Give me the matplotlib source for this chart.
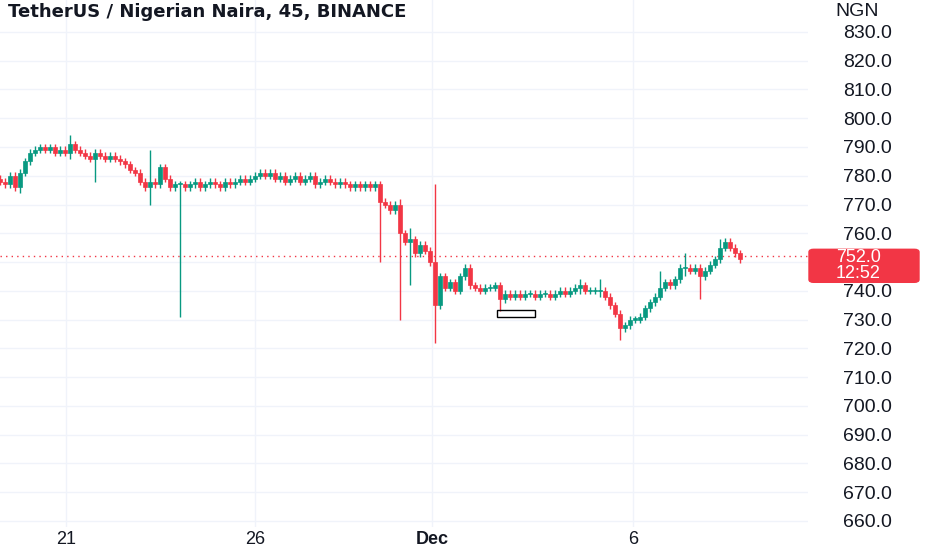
import numpy as np
from matplotlib import pyplot as plt
from matplotlib.patches import Rectangle, FancyBboxPatch

# closes, one candle every ~0.132 day starting Nov 19.25
closes = [778, 777, 780, 776, 781, 785, 788, 789, 790, 789,
          790, 788, 789, 788, 791, 789, 788, 787, 786, 788,
          787, 786, 787, 786, 785, 784, 782, 781, 778, 776,
          778, 777, 783, 779, 776, 777, 777, 776, 777, 778,
          776, 777, 778, 777, 776, 778, 777, 778, 779, 778,
          779, 780, 781, 780, 781, 779, 780, 778, 779, 780,
          778, 779, 780, 777, 778, 779, 778, 777, 778, 777,
          776, 777, 776, 777, 776, 777, 771, 770, 768, 770,
          760, 757, 758, 753, 756, 754, 750, 735, 745, 741,
          743, 740, 745, 748, 742, 741, 740, 741, 741, 742,
          737, 739, 738, 739, 738, 739, 739, 738, 739, 739,
          738, 739, 740, 739, 740, 741, 742, 740, 740, 740,
          740, 738, 735, 732, 727, 728, 730, 730, 731, 734,
          736, 738, 741, 743, 742, 744, 748, 748, 747, 748,
          745, 747, 749, 751, 755, 757, 755, 753, 751]
first_open = 779
# notable wicks: candle index, high, low
spike_idx = [4, 14, 19, 30, 36, 76, 80, 82, 87, 100, 116, 120, 124, 132, 137, 140, 144]
spike_high = [782, 794, 789, 789, 778, 777, 772, 762, 777, 742, 744, 744, 732, 747, 753, 748, 758]
spike_low = [774, 786, 778, 770, 731, 750, 730, 742, 722, 733, 739, 738, 723, 738, 745, 737, 750]

tick_days = [21, 26, 30.68, 36]
tick_labels = ["21", "26", "Dec", "6"]
price_ticks = np.arange(660, 831, 10)

start_day = 19.25
step = 5 / 37.8
last_price = 752.0
countdown = "12:52"

GREEN = "#089981"
RED = "#f23645"
plt.rcParams['font.family'] = ['Liberation Sans', 'DejaVu Sans']

opens = [first_open] + closes[:-1]
highs = [max(o, c) + 1.2 for o, c in zip(opens, closes)]
lows = [min(o, c) - 1.2 for o, c in zip(opens, closes)]
for i, h, l in zip(spike_idx, spike_high, spike_low):
    highs[i] = max(highs[i], h)
    lows[i] = min(lows[i], l)
x = start_day + np.arange(len(closes)) * step

fig = plt.figure(figsize=[9.32, 5.5], dpi=100)
fig.patch.set_facecolor("white")
ax = fig.add_axes([0, 23 / 550, 808 / 932, 527 / 550])
ax.set_xlim(start_day, start_day + 808 / 37.8)
ax.set_ylim(657.9, 841.1)

for xi, o, c, h, l in zip(x, opens, closes, highs, lows):
    col = GREEN if c >= o else RED
    ax.plot([xi, xi], [l, h], color=col, lw=1, solid_capstyle="butt", zorder=3)
    ax.add_patch(Rectangle((xi - 0.045, min(o, c)), 0.09, max(abs(c - o), 0.4),
                           facecolor=col, edgecolor=col, lw=0.5, zorder=4))

# annotation box
ax.add_patch(Rectangle((32.40, 731), 1.0, 2.2, facecolor="none", edgecolor="black", lw=1, zorder=5))

ax.axhline(last_price, color=RED, lw=1, linestyle=(0, (1, 3)), zorder=2)

for sp in ax.spines.values():
    sp.set_visible(False)
ax.set_yticks(price_ticks)
# the 750 label is hidden behind the last-price box
ax.set_yticklabels(["" if abs(v - last_price) < 5 else f"{v:.1f}" for v in price_ticks])
ax.yaxis.tick_right()
ax.tick_params(axis="y", length=0, pad=25, labelsize=14, labelcolor="#131722")
ax.set_xticks(tick_days)
ax.set_xticklabels(tick_labels)
ax.tick_params(axis="x", length=0, pad=3, labelsize=13, labelcolor="#131722")
for lab in ax.get_xticklabels():
    if lab.get_text() == "Dec":
        lab.set_fontweight("bold")
ax.grid(True, color="#f0f3fa", lw=1, zorder=0)
ax.set_axisbelow(True)

ax.text(0.01, 0.995, "TetherUS / Nigerian Naira, 45, BINANCE", transform=ax.transAxes,
        ha="left", va="top", fontsize=13, fontweight="bold", color="#131722",
        family=["DejaVu Sans"])
fig.text(835 / 932, 1 - 12 / 550, "NGN", ha="left", va="center", fontsize=14, color="#131722")

# last price label box on the price scale (pixel offsets from the price line)
ybox = ax.transData.transform((0, last_price))[1]
fig.patches.append(FancyBboxPatch((809 / 932, (ybox - 26) / 550), 110 / 932, 33 / 550,
                                  boxstyle="round,pad=0,rounding_size=0.005",
                                  transform=fig.transFigure, fc=RED, ec=RED, zorder=5))
fig.text(836 / 932, (ybox - 9.5) / 550, f"{last_price:.1f}\n{countdown}", ha="left", va="center",
         fontsize=13, color="white", linespacing=0.95, zorder=6)
fig.savefig("out.png")
